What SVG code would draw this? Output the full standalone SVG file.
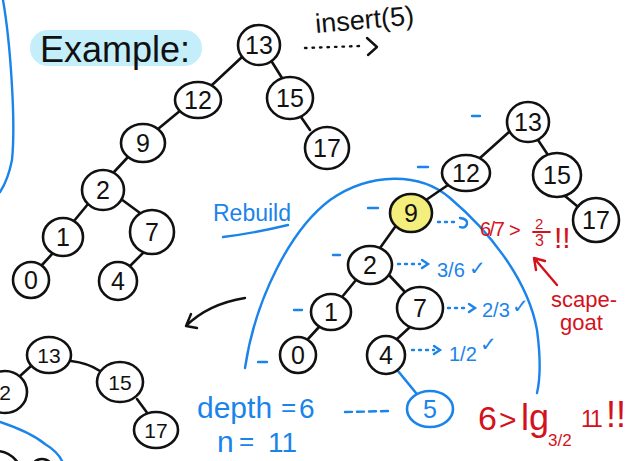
<svg xmlns="http://www.w3.org/2000/svg" width="625" height="461" viewBox="0 0 625 461">
<style>
.n ellipse{fill:#fff;stroke:#111;stroke-width:2.6}
.n text{font-family:"Liberation Sans",Arial,sans-serif;font-size:25px;fill:#111;text-anchor:middle}
.s text{font-size:21px}
.e line,.e path{stroke:#111;stroke-width:2.6;fill:none;stroke-linecap:round}
.bl{stroke:#1a84ea;stroke-width:2.4;fill:none;stroke-linecap:round}
.bd{stroke:#1a84ea;stroke-width:2.4;fill:none;stroke-linecap:round;stroke-dasharray:2 5}
.rd{stroke:#d3121c;stroke-width:2.4;fill:none;stroke-linecap:round}
.tb{font-family:"Liberation Sans",Arial,sans-serif;fill:#1a84ea}
.tr{font-family:"Liberation Sans",Arial,sans-serif;fill:#d3121c}
.tk{font-family:"Liberation Sans",Arial,sans-serif;fill:#111}
</style>

<!-- blue side curves -->
<path class="bl" d="M3,0 C10,40 16,120 12,160 Q8,180 0,192"/>
<path class="bl" d="M0,422 Q30,432 45,444 Q58,452 62,461"/>

<!-- Example label -->
<rect x="30" y="30" width="172" height="36" rx="18" fill="#c4eefa"/>
<text class="tk" x="40" y="62" font-size="36">Example:</text>

<!-- insert(5) -->
<text class="tk" x="316" y="33" font-size="27" transform="rotate(-5 316 33)">insert(5)</text>
<path d="M305,48 L360,46" stroke="#111" stroke-width="2.4" stroke-dasharray="1.5 6" stroke-linecap="round" fill="none"/>
<path d="M367,38 L377,47 L368,55" stroke="#111" stroke-width="2.4" fill="none" stroke-linecap="round" stroke-linejoin="round"/>

<!-- Rebuild -->
<text class="tb" x="213" y="221" font-size="23">Rebuild</text>
<path class="bl" d="M223,237 Q255,233 288,225"/>

<!-- big blue arc -->
<path class="bl" d="M245,368 C255,300 290,230 330,200 C370,172 420,172 450,198 C490,232 528,280 537,330 C541,360 540,380 537,393"/>

<!-- black curved arrow -->
<path d="M245,298 Q208,304 186,326 M186,326 L191,314 M186,326 L197,328" stroke="#111" stroke-width="2.4" fill="none" stroke-linecap="round"/>

<!-- connectors -->
<g id="connectors" class="e">
  <line x1="242" y1="57" x2="212" y2="85"/>
  <line x1="272" y1="62" x2="282" y2="78"/>
  <line x1="181" y1="110" x2="158" y2="129"/>
  <line x1="128" y1="157" x2="114" y2="172"/>
  <line x1="88" y1="204" x2="74" y2="221"/>
  <line x1="121" y1="199" x2="140" y2="213"/>
  <line x1="53" y1="253" x2="42" y2="265"/>
  <line x1="144" y1="252" x2="130" y2="266"/>
  <line x1="301" y1="117" x2="310" y2="130"/>

  <line x1="509" y1="132" x2="480" y2="158"/>
  <line x1="538" y1="140" x2="548" y2="155"/>
  <line x1="565" y1="196" x2="577" y2="206"/>
  <line x1="448" y1="185" x2="426" y2="200"/>
  <line x1="395" y1="227" x2="380" y2="248"/>
  <line x1="356" y1="280" x2="342" y2="297"/>
  <line x1="389" y1="275" x2="404" y2="291"/>
  <line x1="319" y1="327" x2="308" y2="339"/>
  <line x1="410" y1="327" x2="397" y2="339"/>
  <line x1="398" y1="371" x2="416" y2="393" style="stroke:#1a84ea"/>

  <line x1="31" y1="366" x2="20" y2="376"/>
  <path d="M71,361 Q88,363 100,371"/>
  <line x1="137" y1="399" x2="148" y2="414"/>
</g>

<!-- top tree -->
<g id="t13" class="n"><ellipse cx="259" cy="45" rx="21" ry="20"/><text x="259" y="54">13</text></g>
<g id="t12" class="n"><ellipse cx="198" cy="100" rx="23" ry="18"/><text x="198" y="109">12</text></g>
<g id="t15" class="n"><ellipse cx="290" cy="98" rx="23" ry="21"/><text x="290" y="107">15</text></g>
<g id="t9" class="n"><ellipse cx="143" cy="143" rx="22" ry="19"/><text x="143" y="152">9</text></g>
<g id="t17" class="n"><ellipse cx="327" cy="148" rx="22" ry="21"/><text x="327" y="157">17</text></g>
<g id="t2" class="n"><ellipse cx="103" cy="190" rx="21" ry="20"/><text x="103" y="199">2</text></g>
<g id="t1" class="n"><ellipse cx="63" cy="237" rx="20" ry="19"/><text x="63" y="246">1</text></g>
<g id="t7" class="n"><ellipse cx="152" cy="232" rx="22" ry="22"/><text x="152" y="241">7</text></g>
<g id="t0" class="n"><ellipse cx="31" cy="280" rx="18" ry="18"/><text x="31" y="289">0</text></g>
<g id="t4" class="n"><ellipse cx="118" cy="281" rx="19" ry="19"/><text x="118" y="290">4</text></g>

<!-- right tree -->
<g id="r13" class="n"><ellipse cx="528" cy="122" rx="21" ry="20"/><text x="528" y="131">13</text></g>
<g id="r12" class="n"><ellipse cx="466" cy="173" rx="24" ry="18"/><text x="466" y="182">12</text></g>
<g id="r15" class="n"><ellipse cx="557" cy="175" rx="24" ry="22"/><text x="557" y="184">15</text></g>
<g id="r17" class="n"><ellipse cx="596" cy="220" rx="23" ry="22"/><text x="596" y="229">17</text></g>
<g id="r9" class="n"><ellipse cx="411" cy="213" rx="21" ry="19" style="fill:#f4ee7c"/><text x="411" y="222">9</text></g>
<g id="r2" class="n"><ellipse cx="370" cy="265" rx="22" ry="19"/><text x="370" y="274">2</text></g>
<g id="r1" class="n"><ellipse cx="331" cy="312" rx="20" ry="18"/><text x="331" y="321">1</text></g>
<g id="r7" class="n"><ellipse cx="420" cy="308" rx="23" ry="21"/><text x="420" y="317">7</text></g>
<g id="r0" class="n"><ellipse cx="298" cy="355" rx="18" ry="18"/><text x="298" y="364">0</text></g>
<g id="r4" class="n"><ellipse cx="386" cy="355" rx="19" ry="19"/><text x="386" y="364">4</text></g>
<g id="r5" class="n"><ellipse cx="430" cy="409" rx="23" ry="18" style="stroke:#1a84ea"/><text x="430" y="418" style="fill:#1a84ea">5</text></g>

<!-- bottom-left tree -->
<g id="b13" class="n s"><ellipse cx="49" cy="355" rx="22" ry="18"/><text x="49" y="363">13</text></g>
<g id="b2" class="n s"><ellipse cx="5" cy="392" rx="22" ry="21"/><text x="5" y="400">2</text></g>
<g id="b15" class="n s"><ellipse cx="120" cy="382" rx="23" ry="20"/><text x="120" y="390">15</text></g>
<g id="b17" class="n s"><ellipse cx="156" cy="430" rx="22" ry="18"/><text x="156" y="438">17</text></g>
<g id="bcut" class="n"><ellipse cx="-4" cy="482" rx="28" ry="31"/><ellipse cx="42" cy="481" rx="15" ry="22"/></g>

<!-- balance dashes -->
<g class="bl">
  <line x1="472" y1="116" x2="480" y2="116"/>
  <line x1="418" y1="167" x2="428" y2="167"/>
  <line x1="368" y1="208" x2="378" y2="208"/>
  <line x1="333" y1="255" x2="340" y2="255"/>
  <line x1="294" y1="310" x2="302" y2="310"/>
  <line x1="258" y1="362" x2="267" y2="362"/>
</g>

<!-- ratio arrows -->
<path class="bd" d="M438,222 L456,222"/>
<path class="bl" d="M460,218 Q468,219 467,224 Q465,229 460,227"/>
<path class="bd" d="M398,264 L420,264"/>
<path class="bl" d="M422,260 L428,264 L422,268"/>
<path class="bd" d="M448,308 L468,308"/>
<path class="bl" d="M469,304 L475,308 L469,312"/>
<path class="bd" d="M412,350 L434,350"/>
<path class="bl" d="M434,346 L440,350 L434,354"/>

<text class="tb" x="437" y="277" font-size="20">3/6</text>
<text class="tb" x="469" y="275" font-size="20">✓</text>
<text class="tb" x="482" y="317" font-size="20">2/3</text>
<text class="tb" x="512" y="313" font-size="20">✓</text>
<text class="tb" x="449" y="361" font-size="20">1/2</text>
<text class="tb" x="480" y="351" font-size="20">✓</text>

<!-- depth / n -->
<text class="tb" x="197" y="418" font-size="30">depth</text>
<text class="tb" x="281" y="416" font-size="26">=</text>
<text class="tb" x="299" y="418" font-size="28">6</text>
<text class="tb" x="217" y="452" font-size="30">n</text>
<text class="tb" x="239" y="450" font-size="26">=</text>
<text class="tb" x="268" y="452" font-size="28">11</text>
<path class="bd" d="M345,412 L390,411" style="stroke-dasharray:7 5"/>

<!-- red annotations -->
<text class="tr" x="480" y="236" font-size="20" letter-spacing="-1.5">6/7</text>
<text class="tr" x="509" y="237" font-size="20">&gt;</text>
<text class="tr" x="535" y="229" font-size="15">2</text>
<line class="rd" x1="533" y1="232" x2="550" y2="232" style="stroke-width:1.8"/>
<text class="tr" x="535" y="246" font-size="16">3</text>
<text class="tr" x="554" y="248" font-size="30">!!</text>
<path class="rd" d="M557,285 L534,258 M534,258 L536,270 M534,258 L545,261"/>
<text class="tr" x="551" y="307" font-size="22">scape-</text>
<text class="tr" x="560" y="330" font-size="22">goat</text>

<text class="tr" x="478" y="430" font-size="34">6</text>
<text class="tr" x="499" y="430" font-size="30">&gt;</text>
<text class="tr" x="521" y="430" font-size="36">lg</text>
<text class="tr" x="548" y="446" font-size="17">3/2</text>
<text class="tr" x="581" y="427" font-size="23" letter-spacing="-2">11</text>
<text class="tr" x="606" y="427" font-size="36">!!</text>
</svg>
